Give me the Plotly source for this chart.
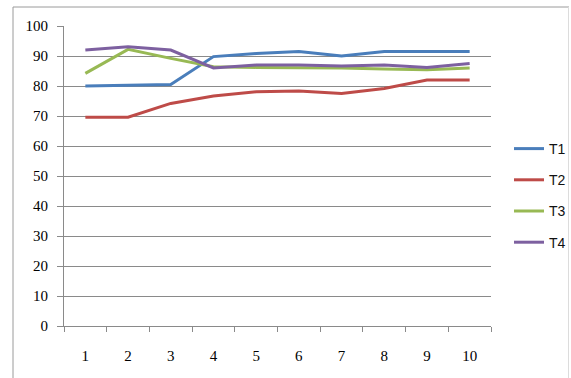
import plotly.graph_objects as go

categories = ["1", "2", "3", "4", "5", "6", "7", "8", "9", "10"]
t1 = [80.0, 80.3, 80.5, 89.8, 90.8, 91.5, 90.0, 91.5, 91.5, 91.5]
t2 = [69.6, 69.6, 74.2, 76.7, 78.1, 78.3, 77.5, 79.2, 82.0, 82.0]
t3 = [84.2, 92.2, 89.2, 86.4, 86.2, 86.2, 86.0, 85.7, 85.4, 86.0]
t4 = [92.0, 93.1, 92.0, 86.0, 87.0, 87.0, 86.7, 87.0, 86.2, 87.5]
series = [("T1", t1, "#4A7EBB"), ("T2", t2, "#BE4B48"), ("T3", t3, "#98B954"), ("T4", t4, "#7D60A0")]
y_ticks = list(range(0, 101, 10))

fig = go.Figure()
for i, (name, vals, color) in enumerate(series):
    fig.add_trace(go.Scatter(x=categories, y=vals, name=name, mode="lines",
                             line=dict(color=color, width=3),
                             legendgroup=name))

L, R, T, B = 64, 80, 26, 52
W, H = 571, 378
pw, ph = W - L - R, H - T - B

def px(x):
    return (x - L) / pw

def py(y):
    return (H - B - y) / ph

frame = "#9a9a9a"
fig.update_layout(
    width=W, height=H,
    margin=dict(l=L, r=R, t=T, b=B, autoexpand=False),
    paper_bgcolor="white", plot_bgcolor="white",
    showlegend=True,
    legend=dict(x=px(509), y=py(133), xanchor="left", yanchor="top",
                font=dict(family="Liberation Sans Narrow, Liberation Sans, sans-serif", size=14, color="#111"),
                tracegroupgap=10, itemwidth=30, bgcolor="rgba(0,0,0,0)"),
    xaxis=dict(type="category", tickson="boundaries", ticks="outside", ticklen=5,
               tickcolor="#8a8a8a", showline=True, linecolor="#8a8a8a", linewidth=1,
               showgrid=False, ticklabelstandoff=16,
               tickfont=dict(family="Liberation Serif, serif", size=15, color="#000"),
               range=[-0.5, 9.5], zeroline=False),
    yaxis=dict(range=[0, 100], tickvals=y_ticks, ticks="outside", ticklen=6,
               tickcolor="#8a8a8a", showline=True, linecolor="#8a8a8a", linewidth=1,
               showgrid=True, gridcolor="#8a8a8a", gridwidth=1, zeroline=False,
               ticklabelstandoff=6,
               tickfont=dict(family="Liberation Serif, serif", size=15, color="#000")),
    shapes=[
        dict(type="line", xref="paper", yref="paper", x0=px(13), x1=px(569), y0=py(7), y1=py(7),
             line=dict(color=frame, width=1), layer="below"),
        dict(type="line", xref="paper", yref="paper", x0=px(13), x1=px(13), y0=py(7), y1=py(380),
             line=dict(color=frame, width=1), layer="below"),
        dict(type="line", xref="paper", yref="paper", x0=px(568.5), x1=px(568.5), y0=py(7), y1=py(380),
             line=dict(color="#dcdcdc", width=1), layer="below"),
    ],
)

fig.write_html("out.html")
